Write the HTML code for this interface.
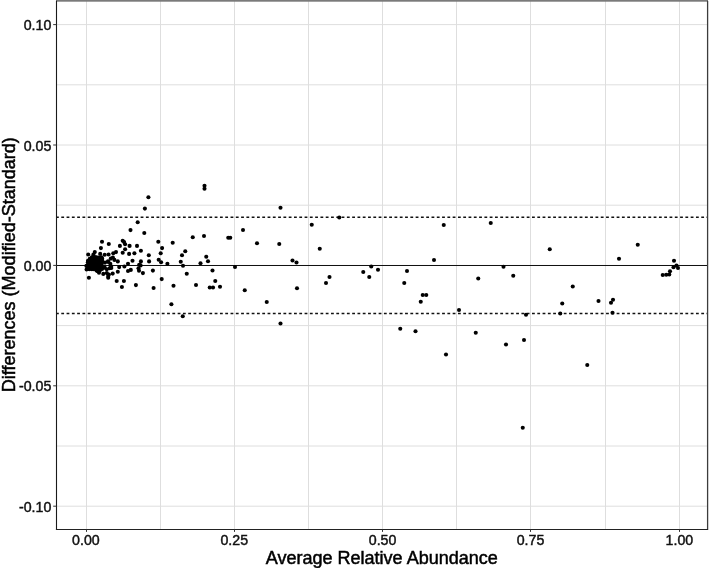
<!DOCTYPE html>
<html lang="en">
<head>
<meta charset="utf-8">
<title>Bland-Altman plot</title>
<style>
html,body{margin:0;padding:0;background:#fff;}
body{width:709px;height:568px;overflow:hidden;}
svg{display:block;}
svg text{font-family:"Liberation Sans",Arial,Helvetica,sans-serif;fill:#111;}
.tl text{font-size:14.2px;fill:#111;stroke:#111;stroke-width:0.45px;}
.ttl{font-size:18.03px;fill:#000;stroke:#000;stroke-width:0.5px;}
</style>
</head>
<body>
<svg width="709" height="568" viewBox="0 0 709 568">
<rect x="0" y="0" width="709" height="568" fill="#fff"/>
<g stroke="#dedede" stroke-width="1" fill="none"><line x1="86.5" y1="0.5" x2="86.5" y2="529.5"/><line x1="160.5" y1="0.5" x2="160.5" y2="529.5"/><line x1="234.5" y1="0.5" x2="234.5" y2="529.5"/><line x1="308.5" y1="0.5" x2="308.5" y2="529.5"/><line x1="382.5" y1="0.5" x2="382.5" y2="529.5"/><line x1="456.5" y1="0.5" x2="456.5" y2="529.5"/><line x1="530.5" y1="0.5" x2="530.5" y2="529.5"/><line x1="605.5" y1="0.5" x2="605.5" y2="529.5"/><line x1="679.5" y1="0.5" x2="679.5" y2="529.5"/><line x1="56.5" y1="506.2" x2="707.5" y2="506.2"/><line x1="56.5" y1="446.0" x2="707.5" y2="446.0"/><line x1="56.5" y1="385.8" x2="707.5" y2="385.8"/><line x1="56.5" y1="325.6" x2="707.5" y2="325.6"/><line x1="56.5" y1="265.4" x2="707.5" y2="265.4"/><line x1="56.5" y1="205.2" x2="707.5" y2="205.2"/><line x1="56.5" y1="145.0" x2="707.5" y2="145.0"/><line x1="56.5" y1="84.8" x2="707.5" y2="84.8"/><line x1="56.5" y1="24.6" x2="707.5" y2="24.6"/></g>
<line x1="56.5" y1="265.45" x2="707.5" y2="265.45" stroke="#111" stroke-width="1.1"/>
<g stroke="#111" stroke-width="1.45" stroke-dasharray="2.8 2.489" fill="none">
<line x1="56" y1="217.15" x2="707.5" y2="217.15"/>
<line x1="56" y1="313.45" x2="707.5" y2="313.45"/>
</g>
<g fill="#000"><circle cx="549.75" cy="249.25" r="2.05"/><circle cx="637.75" cy="244.75" r="2.05"/><circle cx="619" cy="258.75" r="2.05"/><circle cx="674" cy="260.75" r="2.05"/><circle cx="676.5" cy="265.5" r="2.05"/><circle cx="673.5" cy="267.25" r="2.05"/><circle cx="678" cy="268" r="2.05"/><circle cx="670" cy="271.25" r="2.05"/><circle cx="669.25" cy="274.5" r="2.05"/><circle cx="666.25" cy="274.75" r="2.05"/><circle cx="662.75" cy="275" r="2.05"/><circle cx="572.75" cy="286.5" r="2.05"/><circle cx="613" cy="299.75" r="2.05"/><circle cx="611" cy="302.75" r="2.05"/><circle cx="598.5" cy="301" r="2.05"/><circle cx="562.25" cy="303.5" r="2.05"/><circle cx="560.25" cy="313.5" r="2.05"/><circle cx="612.5" cy="312.75" r="2.05"/><circle cx="443.75" cy="225" r="2.05"/><circle cx="490.75" cy="223" r="2.05"/><circle cx="434" cy="260" r="2.05"/><circle cx="371.25" cy="266.5" r="2.05"/><circle cx="378" cy="269.75" r="2.05"/><circle cx="363.25" cy="272" r="2.05"/><circle cx="369.25" cy="277" r="2.05"/><circle cx="407" cy="271" r="2.05"/><circle cx="404.25" cy="283" r="2.05"/><circle cx="422.75" cy="295" r="2.05"/><circle cx="426.25" cy="295" r="2.05"/><circle cx="420.75" cy="301.75" r="2.05"/><circle cx="459" cy="310" r="2.05"/><circle cx="478.25" cy="278.5" r="2.05"/><circle cx="503.5" cy="266.75" r="2.05"/><circle cx="513.25" cy="275.75" r="2.05"/><circle cx="526" cy="314.75" r="2.05"/><circle cx="400.25" cy="328.75" r="2.05"/><circle cx="415.5" cy="331.25" r="2.05"/><circle cx="446" cy="354.5" r="2.05"/><circle cx="475.75" cy="332.75" r="2.05"/><circle cx="506" cy="344.5" r="2.05"/><circle cx="524" cy="340" r="2.05"/><circle cx="522.75" cy="427.75" r="2.05"/><circle cx="587.25" cy="365" r="2.05"/><circle cx="204.5" cy="185.75" r="2.05"/><circle cx="204.5" cy="188.75" r="2.05"/><circle cx="280.5" cy="207.75" r="2.05"/><circle cx="339.25" cy="217.5" r="2.05"/><circle cx="311.75" cy="224.75" r="2.05"/><circle cx="243" cy="230" r="2.05"/><circle cx="192.75" cy="237.25" r="2.05"/><circle cx="204" cy="236" r="2.05"/><circle cx="228.25" cy="237.75" r="2.05"/><circle cx="230.25" cy="237.75" r="2.05"/><circle cx="257" cy="243.25" r="2.05"/><circle cx="279.25" cy="244" r="2.05"/><circle cx="319.75" cy="248.75" r="2.05"/><circle cx="185.25" cy="251.25" r="2.05"/><circle cx="182" cy="255.25" r="2.05"/><circle cx="206.25" cy="256.75" r="2.05"/><circle cx="208" cy="261.25" r="2.05"/><circle cx="180.75" cy="261.75" r="2.05"/><circle cx="200.5" cy="263.25" r="2.05"/><circle cx="183" cy="265.75" r="2.05"/><circle cx="292.5" cy="260.5" r="2.05"/><circle cx="296.5" cy="262.5" r="2.05"/><circle cx="235" cy="267" r="2.05"/><circle cx="212.5" cy="270.5" r="2.05"/><circle cx="186.75" cy="273.75" r="2.05"/><circle cx="215.25" cy="281" r="2.05"/><circle cx="196" cy="285" r="2.05"/><circle cx="209.75" cy="287.5" r="2.05"/><circle cx="213" cy="287.5" r="2.05"/><circle cx="220" cy="286.75" r="2.05"/><circle cx="244.75" cy="290.25" r="2.05"/><circle cx="297" cy="288.25" r="2.05"/><circle cx="329.5" cy="277" r="2.05"/><circle cx="326" cy="283" r="2.05"/><circle cx="266.75" cy="302" r="2.05"/><circle cx="182.75" cy="316.25" r="2.05"/><circle cx="280.5" cy="323.5" r="2.05"/><circle cx="148.4" cy="197.2" r="2.05"/><circle cx="144.9" cy="208.6" r="2.05"/><circle cx="137.7" cy="222.2" r="2.05"/><circle cx="130.5" cy="230.1" r="2.05"/><circle cx="144.3" cy="233.0" r="2.05"/><circle cx="102" cy="241.8" r="2.05"/><circle cx="108.8" cy="244.0" r="2.05"/><circle cx="122.7" cy="240.8" r="2.05"/><circle cx="124.1" cy="242.1" r="2.05"/><circle cx="125.1" cy="244.2" r="2.05"/><circle cx="119.9" cy="245.9" r="2.05"/><circle cx="129.6" cy="245.9" r="2.05"/><circle cx="137" cy="245.9" r="2.05"/><circle cx="158.3" cy="241.8" r="2.05"/><circle cx="172.7" cy="242.8" r="2.05"/><circle cx="162.1" cy="248.1" r="2.05"/><circle cx="100.9" cy="248.1" r="2.05"/><circle cx="125.1" cy="249.3" r="2.05"/><circle cx="140.9" cy="250.7" r="2.05"/><circle cx="116" cy="252.1" r="2.05"/><circle cx="122.7" cy="252.8" r="2.05"/><circle cx="113.3" cy="253.2" r="2.05"/><circle cx="129.1" cy="253.9" r="2.05"/><circle cx="134.4" cy="253.2" r="2.05"/><circle cx="160.7" cy="253.3" r="2.05"/><circle cx="148.8" cy="255.2" r="2.05"/><circle cx="94.8" cy="252.1" r="2.05"/><circle cx="88.2" cy="254.5" r="2.05"/><circle cx="93.4" cy="254.5" r="2.05"/><circle cx="100.2" cy="253.9" r="2.05"/><circle cx="104.7" cy="254.8" r="2.05"/><circle cx="108.6" cy="254.5" r="2.05"/><circle cx="112.9" cy="257.5" r="2.05"/><circle cx="114.4" cy="259.9" r="2.05"/><circle cx="117.8" cy="261.4" r="2.05"/><circle cx="132.5" cy="260.7" r="2.05"/><circle cx="140.9" cy="261.4" r="2.05"/><circle cx="149.1" cy="261.4" r="2.05"/><circle cx="158.7" cy="259.7" r="2.05"/><circle cx="161.1" cy="262.3" r="2.05"/><circle cx="167.4" cy="263.7" r="2.05"/><circle cx="128" cy="263.7" r="2.05"/><circle cx="139.2" cy="264.7" r="2.05"/><circle cx="140.6" cy="265.4" r="2.05"/><circle cx="124.4" cy="266.5" r="2.05"/><circle cx="119.2" cy="267.1" r="2.05"/><circle cx="138.5" cy="268.2" r="2.05"/><circle cx="130.8" cy="269.9" r="2.05"/><circle cx="128" cy="271.0" r="2.05"/><circle cx="139" cy="270.7" r="2.05"/><circle cx="117.8" cy="271.7" r="2.05"/><circle cx="142.9" cy="273.1" r="2.05"/><circle cx="152.9" cy="270.6" r="2.05"/><circle cx="112.7" cy="273.6" r="2.05"/><circle cx="108.9" cy="274.6" r="2.05"/><circle cx="103.3" cy="273.9" r="2.05"/><circle cx="99" cy="272.7" r="2.05"/><circle cx="108.2" cy="277.8" r="2.05"/><circle cx="88.9" cy="277.8" r="2.05"/><circle cx="116.7" cy="281.0" r="2.05"/><circle cx="123.9" cy="281.0" r="2.05"/><circle cx="121.9" cy="287" r="2.05"/><circle cx="135.9" cy="285.1" r="2.05"/><circle cx="153.6" cy="288" r="2.05"/><circle cx="161.7" cy="279.1" r="2.05"/><circle cx="173.5" cy="285.8" r="2.05"/><circle cx="171.4" cy="304.3" r="2.05"/><circle cx="97.6" cy="271.1" r="2.05"/><circle cx="108.2" cy="276" r="2.05"/><circle cx="110.8" cy="258.6" r="2.05"/><circle cx="106.8" cy="273.1" r="2.05"/><circle cx="111.3" cy="268.0" r="2.05"/><circle cx="108" cy="261.3" r="2.05"/><circle cx="105" cy="262.6" r="2.05"/><circle cx="108.2" cy="261.9" r="2.05"/><circle cx="110.3" cy="263.7" r="2.05"/><circle cx="111" cy="266.2" r="2.05"/><circle cx="109.6" cy="268.3" r="2.05"/><circle cx="106.8" cy="269.3" r="2.05"/><circle cx="104.7" cy="267.6" r="2.05"/><circle cx="86.4" cy="265.9" r="2.05"/><circle cx="86.6" cy="269.4" r="2.05"/><circle cx="88.0" cy="260.8" r="2.05"/><circle cx="87.9" cy="262.3" r="2.05"/><circle cx="88.3" cy="263.8" r="2.05"/><circle cx="88.2" cy="265.3" r="2.05"/><circle cx="87.8" cy="267.1" r="2.05"/><circle cx="88.3" cy="268.9" r="2.05"/><circle cx="89.7" cy="258.9" r="2.05"/><circle cx="89.9" cy="260.8" r="2.05"/><circle cx="90.1" cy="262.0" r="2.05"/><circle cx="90.3" cy="263.6" r="2.05"/><circle cx="89.8" cy="265.8" r="2.05"/><circle cx="89.6" cy="267.3" r="2.05"/><circle cx="89.5" cy="269.1" r="2.05"/><circle cx="91.8" cy="257.2" r="2.05"/><circle cx="91.7" cy="258.8" r="2.05"/><circle cx="91.9" cy="260.9" r="2.05"/><circle cx="91.6" cy="262.3" r="2.05"/><circle cx="91.2" cy="264.1" r="2.05"/><circle cx="91.7" cy="266.0" r="2.05"/><circle cx="91.9" cy="267.1" r="2.05"/><circle cx="91.5" cy="269.1" r="2.05"/><circle cx="92.9" cy="257.3" r="2.05"/><circle cx="93.0" cy="258.6" r="2.05"/><circle cx="93.2" cy="260.8" r="2.05"/><circle cx="93.0" cy="262.2" r="2.05"/><circle cx="93.3" cy="264.2" r="2.05"/><circle cx="93.6" cy="265.9" r="2.05"/><circle cx="93.1" cy="267.2" r="2.05"/><circle cx="93.2" cy="269.3" r="2.05"/><circle cx="94.8" cy="257.1" r="2.05"/><circle cx="95.1" cy="258.6" r="2.05"/><circle cx="94.6" cy="260.4" r="2.05"/><circle cx="94.9" cy="262.3" r="2.05"/><circle cx="95.4" cy="264.1" r="2.05"/><circle cx="95.0" cy="265.7" r="2.05"/><circle cx="95.1" cy="266.9" r="2.05"/><circle cx="95.3" cy="269.2" r="2.05"/><circle cx="96.4" cy="257.2" r="2.05"/><circle cx="96.3" cy="258.5" r="2.05"/><circle cx="96.5" cy="260.2" r="2.05"/><circle cx="96.6" cy="261.8" r="2.05"/><circle cx="96.3" cy="263.6" r="2.05"/><circle cx="96.4" cy="265.5" r="2.05"/><circle cx="96.3" cy="267.6" r="2.05"/><circle cx="96.8" cy="268.7" r="2.05"/><circle cx="96.5" cy="270.6" r="2.05"/><circle cx="98.7" cy="257.5" r="2.05"/><circle cx="98.4" cy="258.8" r="2.05"/><circle cx="98.1" cy="260.2" r="2.05"/><circle cx="98.3" cy="262.0" r="2.05"/><circle cx="98.7" cy="263.6" r="2.05"/><circle cx="98.0" cy="266.0" r="2.05"/><circle cx="98.4" cy="267.0" r="2.05"/><circle cx="98.4" cy="268.6" r="2.05"/><circle cx="98.4" cy="271.1" r="2.05"/><circle cx="99.8" cy="259.0" r="2.05"/><circle cx="100.1" cy="260.7" r="2.05"/><circle cx="100.0" cy="262.0" r="2.05"/><circle cx="100.3" cy="264.3" r="2.05"/><circle cx="100.4" cy="265.8" r="2.05"/><circle cx="100.4" cy="267.5" r="2.05"/><circle cx="99.9" cy="269.0" r="2.05"/><circle cx="100.0" cy="270.3" r="2.05"/><circle cx="101.6" cy="257.3" r="2.05"/><circle cx="102.2" cy="258.8" r="2.05"/><circle cx="102.1" cy="260.9" r="2.05"/><circle cx="102.2" cy="262.1" r="2.05"/><circle cx="101.6" cy="263.7" r="2.05"/><circle cx="101.6" cy="265.4" r="2.05"/><circle cx="101.9" cy="267.6" r="2.05"/><circle cx="102.1" cy="269.0" r="2.05"/></g>
<rect x="56" y="0" width="652" height="1.7" fill="#7a7a7a"/>
<line x1="707.5" y1="0.8" x2="707.5" y2="529.5" stroke="#3c3c3c" stroke-width="1.1"/><line x1="708.5" y1="1" x2="708.5" y2="529.5" stroke="#d0d0d0" stroke-width="1"/>
<line x1="56.5" y1="0.8" x2="56.5" y2="530.05" stroke="#1a1a1a" stroke-width="1.1"/>
<line x1="55.95" y1="529.5" x2="708.15" y2="529.5" stroke="#222" stroke-width="1"/>
<g stroke="#333" stroke-width="1" fill="none"><line x1="53.2" y1="24.6" x2="56.5" y2="24.6"/><line x1="53.2" y1="145.0" x2="56.5" y2="145.0"/><line x1="53.2" y1="265.4" x2="56.5" y2="265.4"/><line x1="53.2" y1="385.8" x2="56.5" y2="385.8"/><line x1="53.2" y1="506.2" x2="56.5" y2="506.2"/><line x1="86.5" y1="529.5" x2="86.5" y2="531.9"/><line x1="234.5" y1="529.5" x2="234.5" y2="531.9"/><line x1="382.5" y1="529.5" x2="382.5" y2="531.9"/><line x1="530.5" y1="529.5" x2="530.5" y2="531.9"/><line x1="679.5" y1="529.5" x2="679.5" y2="531.9"/></g>
<g class="tl"><text x="51.3" y="30" text-anchor="end">0.10</text><text x="51.3" y="151" text-anchor="end">0.05</text><text x="51.3" y="271" text-anchor="end">0.00</text><text x="51.3" y="391" text-anchor="end">-0.05</text><text x="51.3" y="512" text-anchor="end">-0.10</text><text x="85.9" y="545" text-anchor="middle">0.00</text><text x="234.3" y="545" text-anchor="middle">0.25</text><text x="382.6" y="545" text-anchor="middle">0.50</text><text x="530.5" y="545" text-anchor="middle">0.75</text><text x="679.4" y="545" text-anchor="middle">1.00</text></g>
<text class="ttl" x="381.8" y="564.0" text-anchor="middle">Average Relative Abundance</text>
<text class="ttl" transform="translate(14.7,264.7) rotate(-90)" text-anchor="middle">Differences (Modified-Standard)</text>
</svg>
</body>
</html>
